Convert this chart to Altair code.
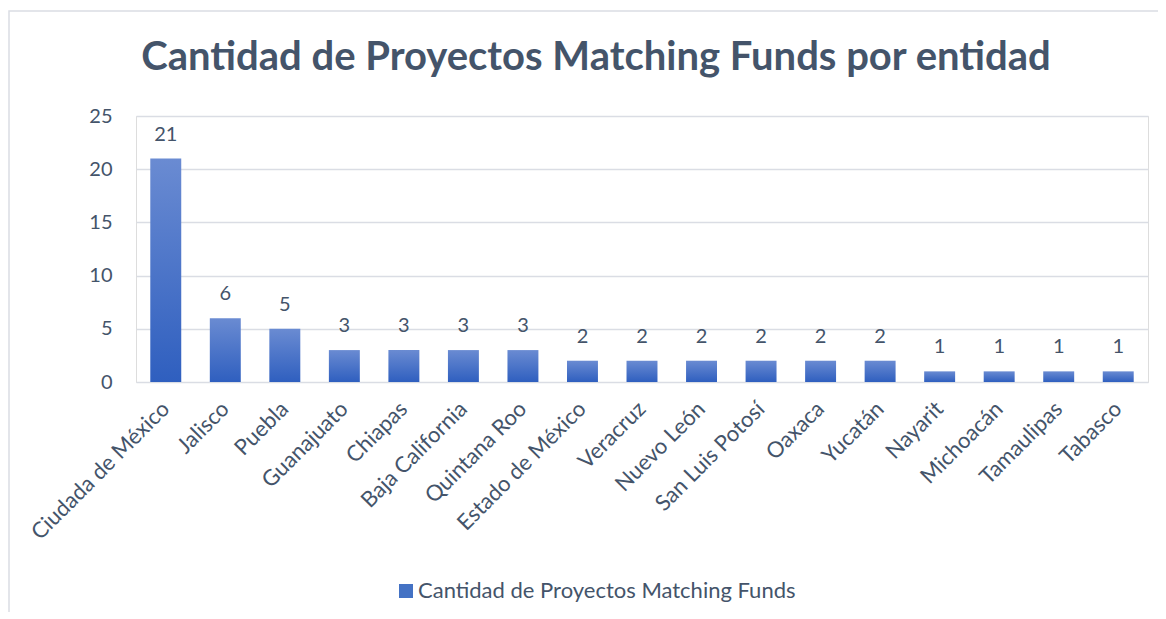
import altair as alt
import pandas as pd

entidades = ["Ciudada de México", "Jalisco", "Puebla", "Guanajuato", "Chiapas",
             "Baja California", "Quintana Roo", "Estado de México", "Veracruz",
             "Nuevo León", "San Luis Potosí", "Oaxaca", "Yucatán", "Nayarit",
             "Michoacán", "Tamaulipas", "Tabasco"]
proyectos = [21, 6, 5, 3, 3, 3, 3, 2, 2, 2, 2, 2, 2, 1, 1, 1, 1]
serie = "Cantidad de Proyectos Matching Funds"
titulo = "Cantidad de Proyectos Matching Funds por entidad"
y_ticks = [0, 5, 10, 15, 20, 25]

df = pd.DataFrame({"entidad": entidades, "proyectos": proyectos, "serie": serie})

FONT = "Lato"
TXT = "#44546A"
GRID = "#DADDE4"
W, H = 1012, 266

gradient = alt.LinearGradient(
    gradient="linear", x1=0, y1=0, x2=0, y2=1,
    stops=[alt.GradientStop(offset=0, color="#6A8BD2"),
           alt.GradientStop(offset=1, color="#2F5FBF")])

x_scale = alt.Scale(paddingInner=0.48, paddingOuter=0.24)
y_scale = alt.Scale(domain=[0, 25], nice=False)

x_enc = alt.X("entidad:N", sort=entidades, title=None, scale=x_scale,
              axis=alt.Axis(labelAngle=-45, labelAlign="right", labelBaseline="middle",
                            labelFontSize=22, labelColor=TXT, labelFont=FONT,
                            labelLimit=0, ticks=False, domain=False,
                            labelPadding=23, grid=False))
y_enc = alt.Y("proyectos:Q", title=None, scale=y_scale,
              axis=alt.Axis(values=y_ticks, ticks=False, domain=False,
                            labelFontSize=20, labelColor=TXT, labelFont=FONT,
                            labelPadding=24, gridColor=GRID, gridWidth=1.5))
x_plain = alt.X("entidad:N", sort=entidades, scale=x_scale)
y_plain = alt.Y("proyectos:Q", scale=y_scale)

bars = alt.Chart(df).mark_bar(color=gradient).encode(x=x_enc, y=y_enc)

labels = alt.Chart(df).mark_text(fontSize=20, color=TXT, font=FONT, dy=-18,
                                 baseline="alphabetic").encode(
    x=x_plain, y=y_plain, text="proyectos:Q")

legend_layer = alt.Chart(df).mark_square(opacity=0).encode(
    x=x_plain, y=y_plain,
    color=alt.Color("serie:N", title=None,
                    scale=alt.Scale(range=["#4472C4"]),
                    legend=alt.Legend(orient="none", legendX=259, legendY=464,
                                      symbolType="square", symbolSize=196,
                                      symbolOpacity=1, symbolStrokeWidth=0,
                                      labelFontSize=22, labelColor=TXT, labelFont=FONT,
                                      labelLimit=0, labelOffset=1)))

border = alt.Chart(alt.Data(values=[{}])).mark_rect(
    fill=None, stroke=GRID, strokeWidth=1.5).encode(
    x=alt.value(-127), x2=alt.value(1100), y=alt.value(-105), y2=alt.value(700))

chart = alt.layer(border, bars, labels, legend_layer).properties(
    width=W, height=H,
    title=alt.TitleParams(titulo, font=FONT, fontSize=40, fontWeight="bold",
                          color=TXT, anchor="start", dx=133, dy=98, offset=30),
    autosize=alt.AutoSizeParams(type="none"),
    padding={"left": 128, "top": 108, "right": 10, "bottom": 230},
).configure_view(stroke=None).configure(background="white")

chart.save("out.html", embed_options={"renderer": "svg", "actions": False})
